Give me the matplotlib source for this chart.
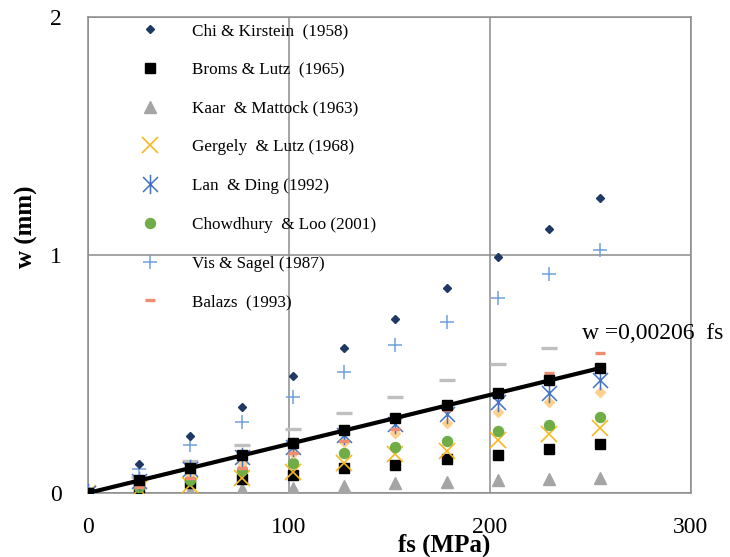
import numpy as np
import matplotlib.pyplot as plt
from matplotlib.path import Path

# Data (fs in MPa, w in mm)
fs = [0, 25.5, 51, 76.5, 102, 127.5, 153, 178.5, 204, 229.5, 255]

chi_kirstein = [0, 0.12, 0.24, 0.36, 0.49, 0.61, 0.73, 0.86, 0.99, 1.11, 1.24]
broms_lutz = [0, 0.02, 0.04, 0.059, 0.076, 0.104, 0.118, 0.143, 0.16, 0.185, 0.206]
kaar_mattock = [0, 0.005, 0.008, 0.017, 0.02, 0.03, 0.04, 0.045, 0.055, 0.057, 0.062]
gergely_lutz = [0, 0.015, 0.034, 0.062, 0.09, 0.125, 0.165, 0.178, 0.223, 0.248, 0.272]
lan_ding = [0, 0.05, 0.1, 0.15, 0.195, 0.244, 0.29, 0.33, 0.384, 0.42, 0.475]
chowdhury_loo = [0, 0.027, 0.055, 0.097, 0.125, 0.167, 0.192, 0.22, 0.26, 0.286, 0.318]
vis_sagel = [0, 0.1, 0.2, 0.3, 0.405, 0.51, 0.62, 0.72, 0.82, 0.92, 1.02]
balazs = [0, 0.027, 0.062, 0.105, 0.168, 0.22, 0.27, 0.35, 0.43, 0.505, 0.59]

# two unlabelled series in the original chart
extra_dash = [0, 0.067, 0.135, 0.2, 0.27, 0.337, 0.405, 0.475, 0.54, 0.61]
extra_diamond = [0, 0.04, 0.085, 0.126, 0.168, 0.216, 0.253, 0.295, 0.342, 0.384, 0.426]

slope = 0.00206

series_labels = ['Chi & Kirstein  (1958)', 'Broms & Lutz  (1965)', 'Kaar  & Mattock (1963)',
                 'Gergely  & Lutz (1968)', 'Lan  & Ding (1992)', 'Chowdhury  & Loo (2001)',
                 'Vis & Sagel (1987)', 'Balazs  (1993)']

plt.rcParams['font.family'] = ['Liberation Serif', 'DejaVu Serif']

# Excel style "star" marker: x with a vertical bar
star = Path([(-1, -1), (1, 1), (-1, 1), (1, -1), (0, -1.3), (0, 1.3)],
            [Path.MOVETO, Path.LINETO, Path.MOVETO, Path.LINETO, Path.MOVETO, Path.LINETO])
dash_short = Path([(-1, 0), (1, 0)], [Path.MOVETO, Path.LINETO])

fig = plt.figure(figsize=(7.3, 5.57), dpi=100)
ax = fig.add_axes([0.1205, 0.1149, 0.8260, 0.8546])

ax.plot(fs[:len(extra_dash)], extra_dash, linestyle='none', marker=dash_short, markersize=11,
        markeredgewidth=2.4, color='#BFBFBF', zorder=2)
ax.plot(fs, kaar_mattock, linestyle='none', marker='^', markersize=8.5, color='#A5A5A5', label=series_labels[2], zorder=3)
ax.plot(fs, broms_lutz, linestyle='none', marker='s', markersize=7, color='black', label=series_labels[1], zorder=3)
ax.plot(fs, gergely_lutz, linestyle='none', marker='x', markersize=12, markeredgewidth=1.2,
        color='#F5B921', label=series_labels[3], zorder=3)
ax.plot(fs, chowdhury_loo, linestyle='none', marker='o', markersize=7.2, color='#70AD47', label=series_labels[5], zorder=4)
ax.plot(fs, extra_diamond, linestyle='none', marker='D', markersize=5, color='#FFD08A', zorder=4)
ax.plot(fs, lan_ding, linestyle='none', marker=star, markersize=14, markeredgewidth=1.1,
        markerfacecolor='none', color='#4472C4', label=series_labels[4], zorder=5)
ax.plot(fs, balazs, linestyle='none', marker=dash_short, markersize=7, markeredgewidth=2.4,
        color='#F08C70', label=series_labels[7], zorder=5)
ax.plot(fs, vis_sagel, linestyle='none', marker='+', markersize=9.5, markeredgewidth=1.1,
        color='#6FA0DC', label=series_labels[6], zorder=5)
ax.plot(fs, chi_kirstein, linestyle='none', marker='D', markersize=4.5, color='#1F3864',
        markeredgecolor='#1F3864', label=series_labels[0], zorder=5)

# fitted line w = 0.00206 fs
fit = [slope * f for f in fs]
ax.plot(fs, fit, color='black', linewidth=3, marker='s', markersize=7, zorder=6)
ax.text(246, 0.67, 'w =0,00206  fs', fontsize=17, va='center', ha='left')

ax.set_xlim(0, 300)
ax.set_ylim(0, 2)
ax.set_xticks([0, 100, 200, 300])
ax.set_yticks([0, 1, 2])
ax.tick_params(length=0, labelsize=17)
ax.tick_params(axis='x', pad=17)
ax.tick_params(axis='y', pad=19)
ax.grid(True, color='#8C8C8C', linewidth=1.1)
ax.set_axisbelow(True)
for sp in ax.spines.values():
    sp.set_color('#8C8C8C')
    sp.set_linewidth(1.1)

ax.set_xlabel('fs (MPa)', fontsize=18, fontweight='bold')
ax.xaxis.set_label_coords(0.59, -0.085)
ax.set_ylabel('w (mm)', fontsize=18, fontweight='bold')
ax.yaxis.set_label_coords(-0.083, 0.56)

# legend, same order as the original
handles, labels = ax.get_legend_handles_labels()
order = [series_labels.index(l) for l in labels]
pairs = sorted(zip(order, handles, labels))
ax.legend([p[1] for p in pairs], [p[2] for p in pairs], loc='upper left',
          bbox_to_anchor=(0.0746, 0.987), frameon=False, numpoints=1, fontsize=12.3,
          handlelength=2.0, handletextpad=1.46, labelspacing=1.33, borderpad=0, borderaxespad=0)

plt.savefig('out.png', dpi=100)
